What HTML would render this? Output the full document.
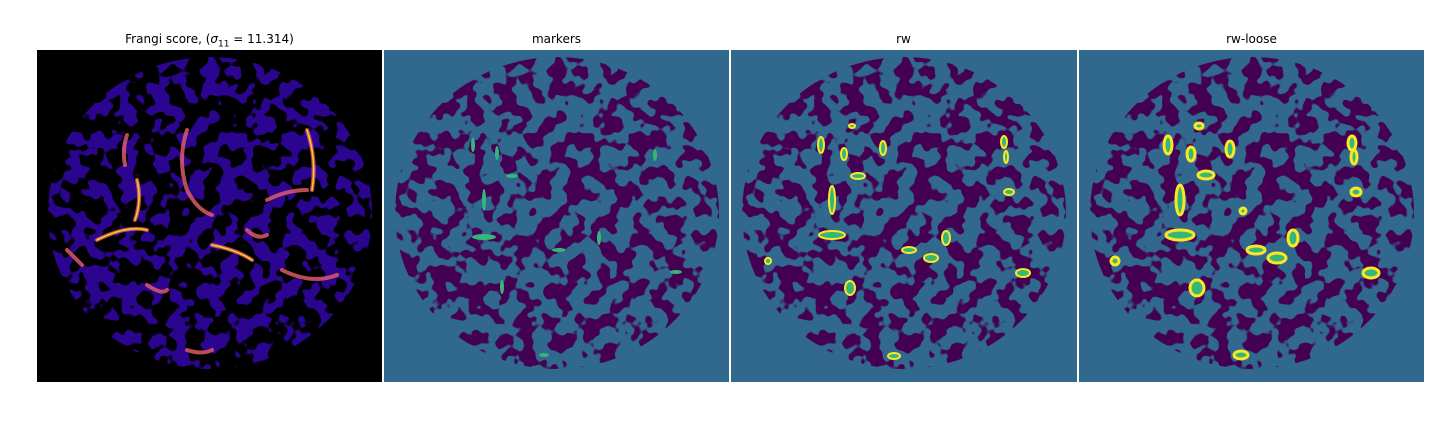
<!DOCTYPE html>
<html><head><meta charset="utf-8"><style>
body{margin:0;background:#fff;width:1440px;height:432px;position:relative;overflow:hidden;font-family:"DejaVu Sans","Liberation Sans",sans-serif}
.t{position:absolute;top:32px;width:345px;text-align:center;font-size:12px;color:#000}
svg{position:absolute;top:50px}
</style></head><body>

<div class="t" style="left:37px">Frangi score, (<i>σ</i><sub style="font-size:9px">11</sub> = 11.314)</div>
<div class="t" style="left:384px">markers</div>
<div class="t" style="left:731px">rw</div>
<div class="t" style="left:1079px">rw-loose</div>

<svg style="left:37px" width="345" height="332">
<defs>
<filter id="b1" filterUnits="userSpaceOnUse" x="0" y="0" width="346" height="332" color-interpolation-filters="sRGB">
<feTurbulence type="fractalNoise" baseFrequency="0.06" numOctaves="2" seed="7"/>
<feColorMatrix type="matrix" values="0 0 0 0 0.17  0 0 0 0 0.02  0 0 0 0 0.56  30 0 0 0 -15"/>
</filter>
<clipPath id="c1"><ellipse cx="173" cy="163" rx="162" ry="156"/></clipPath>
</defs>
<rect width="345" height="332" fill="#000"/>
<g clip-path="url(#c1)"><rect width="345" height="332" filter="url(#b1)"/></g>
<g stroke="#e8606a" stroke-width="4" fill="none" stroke-linecap="round" opacity="0.8">
<path d="M60 190 Q90 175 110 180"/><path d="M100 130 Q105 150 98 170"/><path d="M90 85 Q85 100 88 115"/>
<path d="M150 80 Q140 110 150 140 Q160 160 175 165"/><path d="M175 195 Q200 200 215 210"/><path d="M270 80 Q280 110 275 140"/>
<path d="M230 150 Q250 140 270 140"/><path d="M245 220 Q275 235 300 225"/><path d="M110 235 Q125 245 130 240"/>
<path d="M210 180 Q220 190 230 185"/><path d="M150 300 Q165 305 175 300"/><path d="M30 200 Q40 210 45 215"/>
</g>
<g stroke="#fcce25" stroke-width="1.5" fill="none" stroke-linecap="round">
<path d="M100 130 Q105 150 98 170"/><path d="M60 190 Q90 175 110 180"/><path d="M175 195 Q200 200 215 210"/><path d="M270 80 Q280 110 275 140"/>
</g>
</svg>

<svg style="left:384px" width="345" height="332">
<defs>
<filter id="b2" filterUnits="userSpaceOnUse" x="0" y="0" width="346" height="332" color-interpolation-filters="sRGB">
<feTurbulence type="fractalNoise" baseFrequency="0.06" numOctaves="2" seed="7"/>
<feColorMatrix type="matrix" values="0 0 0 0 0.267  0 0 0 0 0.004  0 0 0 0 0.329  30 0 0 0 -15"/>
</filter>
<clipPath id="c2"><ellipse cx="173" cy="163" rx="162" ry="156"/></clipPath>
</defs>
<rect width="345" height="332" fill="#31688e"/>
<g clip-path="url(#c2)"><rect width="345" height="332" filter="url(#b2)"/></g>
<g fill="#35b779">
<ellipse cx="89" cy="95" rx="2" ry="7"/><ellipse cx="113" cy="103" rx="2" ry="7"/><ellipse cx="128" cy="126" rx="6" ry="2"/>
<ellipse cx="100" cy="150" rx="2" ry="11"/><ellipse cx="100" cy="187" rx="12" ry="3"/><ellipse cx="175" cy="200" rx="7" ry="2"/>
<ellipse cx="215" cy="188" rx="2" ry="7"/><ellipse cx="118" cy="237" rx="2" ry="7"/><ellipse cx="292" cy="222" rx="6" ry="2"/>
<ellipse cx="271" cy="105" rx="2" ry="6"/><ellipse cx="160" cy="305" rx="5" ry="2"/>
</g>
</svg>

<svg style="left:731px" width="346" height="332">
<defs>
<filter id="b3" filterUnits="userSpaceOnUse" x="0" y="0" width="346" height="332" color-interpolation-filters="sRGB">
<feTurbulence type="fractalNoise" baseFrequency="0.06" numOctaves="2" seed="7"/>
<feColorMatrix type="matrix" values="0 0 0 0 0.267  0 0 0 0 0.004  0 0 0 0 0.329  30 0 0 0 -15"/>
</filter>
<clipPath id="c3"><ellipse cx="173" cy="163" rx="162" ry="156"/></clipPath>
</defs>
<rect width="346" height="332" fill="#31688e"/>
<g clip-path="url(#c3)"><rect width="346" height="332" filter="url(#b3)"/></g>
<g fill="#35b779" stroke="#fde725" stroke-width="2">
<ellipse cx="90" cy="95" rx="3" ry="8"/><ellipse cx="113" cy="104" rx="3" ry="6"/><ellipse cx="152" cy="98" rx="3" ry="7"/>
<ellipse cx="127" cy="126" rx="7" ry="3"/><ellipse cx="101" cy="150" rx="3" ry="14"/><ellipse cx="101" cy="185" rx="13" ry="4"/>
<ellipse cx="178" cy="200" rx="7" ry="3"/><ellipse cx="200" cy="208" rx="7" ry="4"/><ellipse cx="215" cy="188" rx="4" ry="7"/>
<ellipse cx="119" cy="238" rx="5" ry="7"/><ellipse cx="292" cy="223" rx="7" ry="4"/><ellipse cx="273" cy="92" rx="3" ry="6"/>
<ellipse cx="275" cy="107" rx="2" ry="6"/><ellipse cx="278" cy="142" rx="5" ry="3"/><ellipse cx="163" cy="306" rx="6" ry="3"/>
<ellipse cx="37" cy="211" rx="3" ry="3"/><ellipse cx="121" cy="76" rx="3" ry="2"/>
</g>
</svg>

<svg style="left:1079px" width="345" height="332">
<defs>
<filter id="b4" filterUnits="userSpaceOnUse" x="0" y="0" width="346" height="332" color-interpolation-filters="sRGB">
<feTurbulence type="fractalNoise" baseFrequency="0.06" numOctaves="2" seed="7"/>
<feColorMatrix type="matrix" values="0 0 0 0 0.267  0 0 0 0 0.004  0 0 0 0 0.329  30 0 0 0 -15"/>
</filter>
<clipPath id="c4"><ellipse cx="173" cy="163" rx="162" ry="156"/></clipPath>
</defs>
<rect width="345" height="332" fill="#31688e"/>
<g clip-path="url(#c4)"><rect width="345" height="332" filter="url(#b4)"/></g>
<g fill="#35b779" stroke="#fde725" stroke-width="3">
<ellipse cx="89" cy="95" rx="4" ry="9"/><ellipse cx="112" cy="104" rx="4" ry="7"/><ellipse cx="151" cy="99" rx="4" ry="8"/>
<ellipse cx="127" cy="125" rx="8" ry="4"/><ellipse cx="101" cy="150" rx="4" ry="15"/><ellipse cx="101" cy="185" rx="14" ry="5"/>
<ellipse cx="177" cy="200" rx="9" ry="4"/><ellipse cx="198" cy="208" rx="9" ry="5"/><ellipse cx="214" cy="188" rx="5" ry="8"/>
<ellipse cx="118" cy="238" rx="7" ry="8"/><ellipse cx="292" cy="223" rx="8" ry="5"/><ellipse cx="273" cy="93" rx="4" ry="7"/>
<ellipse cx="275" cy="107" rx="3" ry="7"/><ellipse cx="277" cy="142" rx="5" ry="4"/><ellipse cx="162" cy="305" rx="7" ry="4"/>
<ellipse cx="36" cy="211" rx="4" ry="4"/><ellipse cx="120" cy="76" rx="4" ry="3"/><ellipse cx="164" cy="161" rx="3" ry="3"/>
</g>
</svg>
</body></html>
